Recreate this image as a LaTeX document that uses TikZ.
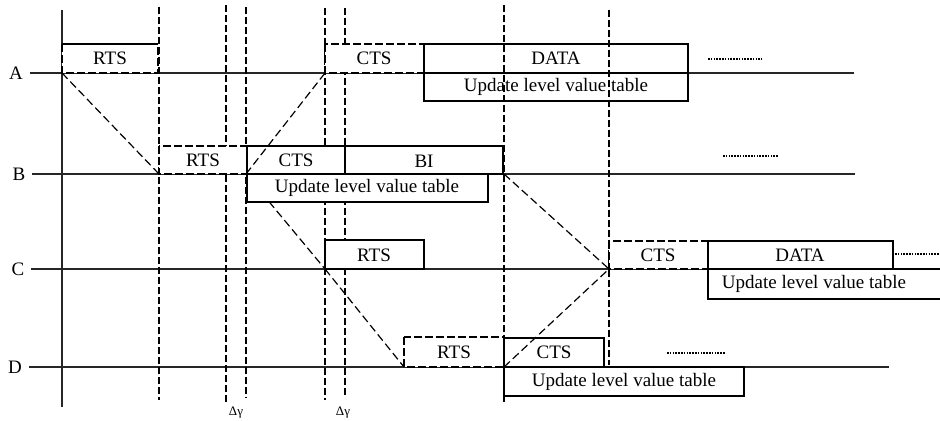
\documentclass[tikz,border=0pt]{standalone}
\usepackage{fontspec}
\setmainfont{Liberation Serif}
\usetikzlibrary{backgrounds}
\tikzset{
  timeaxis/.style={line width=0.9pt, black!85},
  slot/.style={line width=0.6pt, dash pattern=on 3.5pt off 1.5pt},
  signal/.style={line width=0.6pt, dash pattern=on 4pt off 2pt},
  frame/.style={line width=0.9pt},
  dframe/.style={line width=0.9pt, dash pattern=on 4pt off 1.5pt},
  more/.style={line width=0.9pt, dash pattern=on 0.8pt off 0.6pt},
  define coordinates/.style={
    execute at begin picture={
      % send/receive points on the four lines
      \coordinate (a0) at (62,73);
      \coordinate (a1) at (325,73);
      \coordinate (b0) at (159,174);
      \coordinate (b1) at (246,174);
      \coordinate (b2) at (504,174);
      \coordinate (c0) at (325,269);
      \coordinate (c1) at (609,269);
      \coordinate (d0) at (404,367);
      \coordinate (d1) at (504,367);
      % right ends of the lines
      \coordinate (Aend) at (854,73);
      \coordinate (Bend) at (855,174);
      \coordinate (Cend) at (893,269);
      \coordinate (Dend) at (889,367);
    }
  }
}

\begin{document}
\begin{tikzpicture}[x=0.5pt, y=-0.5pt, define coordinates,
  font=\fontsize{9.5}{11}\selectfont]
\useasboundingbox (0,0) rectangle (940,421);

% node names and their lines
\node (A) at (16,73) {A};
\node (B) at (19,174) {B};
\node (C) at (18,269) {C};
\node (D) at (15,367) {D};

\begin{pgfonlayer}{background}
\draw[timeaxis] (A.east) -- (Aend);
\draw[timeaxis] (B.east) -- (Bend);
\draw[timeaxis] (C.east) -- (Cend);
\draw[timeaxis] (D.east) -- (Dend);

% time marks
\draw[timeaxis] (62,10) -- (62,407);
\draw[slot, line width=1.3pt] (159,7) -- (159,400);
\draw[slot, line width=1pt] (226,5) -- (226,402);
\foreach \x/\top/\bot in {246/7/398, 325/8/400, 345/8/398, 504/5/403, 609/10/365}
  \draw[slot] (\x,\top) -- (\x,\bot);

% goes under the table box of B
\draw[signal] (b1) -- (c0);
\end{pgfonlayer}

% line A
\draw[dframe, fill=white] (62,44) rectangle (158,73);
\draw[frame] (62,44) -- (158,44);
\node (rtsA) at (110,58) {RTS};
\draw[dframe, fill=white] (325,44) rectangle (424,73);
\node (ctsA) at (374,58) {CTS};
\draw[frame] (424,44) rectangle (688,73);
\node (dataA) at (556,58) {DATA};
\draw[frame] (424,73) rectangle (688,101);
\node (tabA) at (556,87) {Update level value table};

% line B
\draw[dframe, fill=white] (159,146) rectangle (247,174);
\node (rtsB) at (203,160) {RTS};
\draw[frame, fill=white] (247,146) rectangle (345,174);
\node (ctsB) at (296,160) {CTS};
\draw[frame, fill=white] (345,146) rectangle (503,174);
\node (biB) at (424,161) {BI};
\draw[frame, fill=white] (247,174) rectangle (488,202);
\node (tabB) at (367,188) {Update level value table};

% line C
\draw[frame, fill=white] (325,240) rectangle (424,269);
\node (rtsC) at (374,255) {RTS};
\draw[dframe, fill=white] (609,241) rectangle (708,269);
\node (ctsC) at (658,255) {CTS};
\draw[frame, fill=white] (708,241) rectangle (893,269);
\node (dataC) at (800,255) {DATA};
\draw[frame] (708,269) rectangle (960,299);
\node (tabC) at (814,284) {Update level value table};

% line D
\draw[dframe, fill=white] (404,337) rectangle (504,367);
\node (rtsD) at (454,352) {RTS};
\draw[frame, fill=white] (504,338) rectangle (604,367);
\node (ctsD) at (554,352) {CTS};
\draw[frame, fill=white] (504,367) rectangle (744,396);
\node (tabD) at (624,382) {Update level value table};

% the frames passing between nodes
\draw[signal] (a0) -- (b0);
\draw[signal] (b1) -- (a1);
\draw[signal] (c0) -- (d0);
\draw[signal] (b2) -- (c1);
\draw[signal] (d1) -- (c1);

% and so on
\draw[more] (708,59) -- (762,59);
\draw[more] (723,156) -- (778,156);
\draw[more] (895,254) -- (940,254);
\draw[more] (667,353) -- (725,353);

% guard intervals
\node[font=\fontsize{6.5}{8}\selectfont] (gap1) at (236,413) {Δγ};
\node[font=\fontsize{6.5}{8}\selectfont] (gap2) at (343,413) {Δγ};

\end{tikzpicture}
\end{document}
